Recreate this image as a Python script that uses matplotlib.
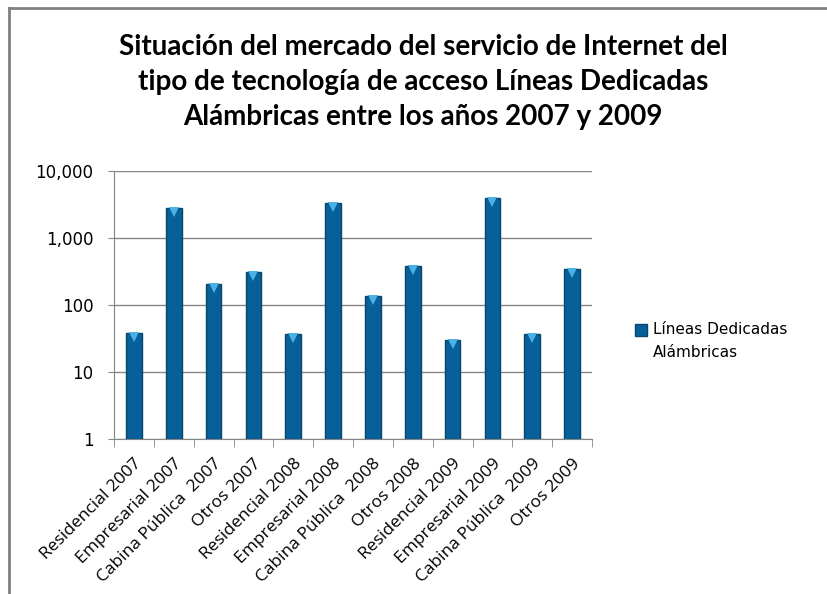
import numpy as np
import matplotlib
matplotlib.use("Agg")
import matplotlib.pyplot as plt
import matplotlib.transforms as mtransforms
from matplotlib.lines import Line2D
from matplotlib.ticker import FixedLocator, NullFormatter

categories = ["Residencial 2007", "Empresarial 2007", "Cabina Pública  2007", "Otros 2007",
              "Residencial 2008", "Empresarial 2008", "Cabina Pública  2008", "Otros 2008",
              "Residencial 2009", "Empresarial 2009", "Cabina Pública  2009", "Otros 2009"]
values = [38, 2800, 204, 307, 37, 3330, 135, 378, 30, 3950, 37, 344]
yticks = [1, 10, 100, 1000, 10000]
yticklabels = ["1", "10", "100", "1,000", "10,000"]
series_name = "Líneas Dedicadas\nAlámbricas"
title = ("Situación del mercado del servicio de Internet del\n"
         "tipo de tecnología de acceso Líneas Dedicadas\n"
         "Alámbricas entre los años 2007 y 2009")

fig = plt.figure(figsize=(8.27, 5.94), dpi=100)
ax = fig.add_axes([114/827, 1-439/594, 478/827, 268/594])

x = np.arange(len(categories))
ax.bar(x, values, width=0.39, color="#07609a", edgecolor="#0a4668", linewidth=1.0, zorder=3)
# light-blue cap on each bar
cap = mtransforms.offset_copy(ax.transData, fig=fig, x=0, y=-4, units="dots")
ax.plot(x, values, linestyle="none", marker="v", markersize=7, color="#49b1e6",
        markeredgewidth=0, transform=cap, zorder=4)

ax.set_yscale("log")
ax.set_ylim(1, 10000)
ax.set_xlim(-0.5, len(categories) - 0.5)
ax.yaxis.set_major_locator(FixedLocator(yticks))
ax.set_yticklabels(yticklabels, fontsize=12, family="DejaVu Sans")
ax.yaxis.set_minor_formatter(NullFormatter())
ax.tick_params(axis="y", which="minor", length=0)
ax.tick_params(axis="y", which="major", length=4.3, color="#868686", pad=10.5)
ax.grid(axis="y", which="major", color="#868686", linewidth=1, zorder=0)

ax.set_xticks(x)
ax.set_xticklabels(categories, rotation=45, ha="right", rotation_mode="anchor",
                   fontsize=12.5, family="Open Sans")
ax.xaxis.set_minor_locator(FixedLocator(np.arange(-0.5, len(categories), 1.0)))
ax.tick_params(axis="x", which="major", length=0, pad=12)
ax.tick_params(axis="x", which="minor", length=6, color="#868686")

for s in ["top", "right"]:
    ax.spines[s].set_visible(False)
for s in ["left", "bottom"]:
    ax.spines[s].set_color("#868686")

fig.text(423/827, 1-82/594, title, ha="center", va="center", fontsize=20,
         fontweight="bold", family="Lato", linespacing=1.41)

# legend
ax.plot([], [], linestyle="none", marker="s", markersize=8.5, color="#07609a",
        markeredgecolor="#0a4668", label=series_name)
leg = fig.legend(loc="center left", bbox_to_anchor=(622/827, 1-341/594), frameon=False,
                 prop={"family": "DejaVu Sans", "size": 11}, handlelength=0.7,
                 handletextpad=0.45, labelspacing=0.3)
for t in leg.get_texts():
    t.set_linespacing(1.6)
# put the marker next to the first line of the label
for h in leg.legend_handles:
    h.set_ydata(np.asarray(h.get_ydata(), dtype=float) + 8.5)

# chart frame
fig.add_artist(Line2D([9/827, 1], [1-8/594, 1-8/594], color="#808080", linewidth=2,
                      transform=fig.transFigure))
fig.add_artist(Line2D([9/827, 9/827], [0, 1-8/594], color="#808080", linewidth=2,
                      transform=fig.transFigure))

fig.savefig("out.png", dpi=100)
